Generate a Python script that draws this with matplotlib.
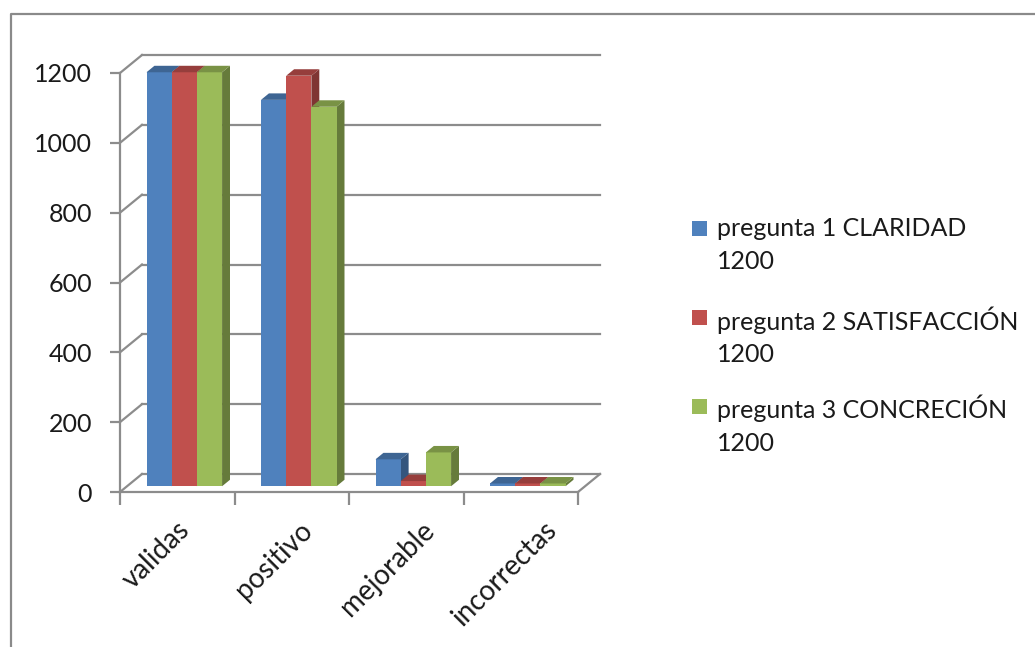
import matplotlib
matplotlib.use("Agg")
import matplotlib.pyplot as plt
import matplotlib.transforms as mtransforms
from matplotlib.patches import Polygon, Rectangle
from matplotlib.lines import Line2D
import numpy as np

# ---------------- data ----------------
categories = ["validas", "positivo", "mejorable", "incorrectas"]
series_labels = ["pregunta 1 CLARIDAD\n1200",
                 "pregunta 2 SATISFACCIÓN\n1200",
                 "pregunta 3 CONCRECIÓN\n1200"]
claridad = [1200, 1120, 78, 8]
satisfaccion = [1200, 1190, 15, 8]
concrecion = [1200, 1100, 98, 8]
yticks = [0, 200, 400, 600, 800, 1000, 1200]

# ---------------- style ----------------
plt.rcParams['font.family'] = ['Lato', 'DejaVu Sans']
colors = ["#4F81BD", "#C0504D", "#9BBB59"]
grid_col = "#8C8C8C"
txt_col = "#1a1a1a"
W, H = 1035, 647
fig = plt.figure(figsize=(W / 100, H / 100), dpi=100)

# axes placed so the front floor edge / front vertical axis match
ax_l, ax_r, ax_b, ax_t = 120, 578, 492, 73
ax = fig.add_axes([ax_l / W, (H - ax_b) / H, (ax_r - ax_l) / W, (ax_b - ax_t) / H])
ax.set_xlim(-0.5, len(categories) - 0.5)
ax.set_ylim(0, 1200)
ax.patch.set_visible(False)

px_x = (ax_r - ax_l) / len(categories)
px_y = (ax_b - ax_t) / 1200.0
DX = 22 / px_x          # depth offset in x data units
DY = 18 / px_y          # depth offset in y data units
x0, x1 = -0.5, len(categories) - 0.5

# walls: side-wall diagonals + back-wall horizontal gridlines
for t in yticks:
    ax.plot([x0, x0 + DX], [t, t + DY], color=grid_col, lw=1.6, clip_on=False, zorder=1)
    ax.plot([x0 + DX, x1 + DX], [t + DY, t + DY], color=grid_col, lw=1.6, clip_on=False, zorder=1)
# floor right edge
ax.plot([x1, x1 + DX], [0, DY], color=grid_col, lw=1.6, clip_on=False, zorder=1)

# spines / ticks
for s in ["top", "right"]:
    ax.spines[s].set_visible(False)
for s in ["left", "bottom"]:
    ax.spines[s].set_color(grid_col)
    ax.spines[s].set_linewidth(1.6)
ax.set_yticks(yticks)
ax.set_yticklabels([str(t) for t in yticks], fontsize=18, color=txt_col)
ax.set_xticks(np.arange(len(categories) + 1) - 0.5)
ax.set_xticklabels([])
ax.tick_params(axis="y", length=7, width=1.6, color=grid_col, pad=13)
ax.tick_params(axis="x", length=9, width=1.6, color=grid_col)

# ---------------- bars (pseudo 3D) ----------------
series = [claridad, satisfaccion, concrecion]
bw = 0.22
f0, f1 = 0.32, 0.68
k = 0.988
bdx, bdy = (f1 - f0) * DX, (f1 - f0) * DY


def shade(c, f):
    rgb = np.array(matplotlib.colors.to_rgb(c))
    return tuple(rgb * f)


xs = np.arange(len(categories))
for si, (vals, col) in enumerate(zip(series, colors)):
    xc = xs + (si - 1) * bw + f0 * DX
    heights = np.array(vals) * k
    bars = ax.bar(xc, heights, width=bw, bottom=f0 * DY, color=col,
                  edgecolor="none", zorder=3 + si * 0.1, clip_on=False)
    for b in bars:
        bx0 = b.get_x()
        bx1 = bx0 + b.get_width()
        yb = b.get_y()
        yt = yb + b.get_height()
        side = Polygon([(bx1, yb), (bx1 + bdx, yb + bdy), (bx1 + bdx, yt + bdy), (bx1, yt)],
                       closed=True, facecolor=shade(col, 0.66), edgecolor="none",
                       zorder=2.9 + si * 0.1, clip_on=False)
        top = Polygon([(bx0, yt), (bx1, yt), (bx1 + bdx, yt + bdy), (bx0 + bdx, yt + bdy)],
                      closed=True, facecolor=shade(col, 0.78), edgecolor="none",
                      zorder=3.05 + si * 0.1, clip_on=False)
        ax.add_patch(side)
        ax.add_patch(top)

# ---------------- category labels ----------------
lab_spread = 1.068
lab_shift = 0.075
for i, name in enumerate(categories):
    tr = ax.transData + mtransforms.ScaledTranslation(0, -34 / 100, fig.dpi_scale_trans)
    ax.text(i * lab_spread + lab_shift, 0, name, transform=tr, rotation=45,
            rotation_mode="anchor", ha="right", va="center", fontsize=20, color=txt_col)

# ---------------- legend (square beside the first line of each label) ----------------
leg_x, leg_y0, leg_step, sq = 692, 228, 89, 15
for i, (lab, col) in enumerate(zip(series_labels, colors)):
    cy = leg_y0 + i * leg_step
    fig.add_artist(Rectangle(((leg_x) / W, 1 - (cy + sq / 2) / H), sq / W, sq / H,
                             transform=fig.transFigure, facecolor=col, edgecolor="none"))
    fig.text((leg_x + sq + 10) / W, 1 - (cy - 11) / H, lab, fontsize=18, color=txt_col,
             ha="left", va="top", linespacing=1.52)

# outer frame (left & top edges)
fig.add_artist(Line2D([10.5 / W, 10.5 / W, 1.0], [0, 1 - 14 / H, 1 - 14 / H],
                      transform=fig.transFigure, color="#8A8A8A", lw=1.6))

fig.savefig("out.png", dpi=100)
